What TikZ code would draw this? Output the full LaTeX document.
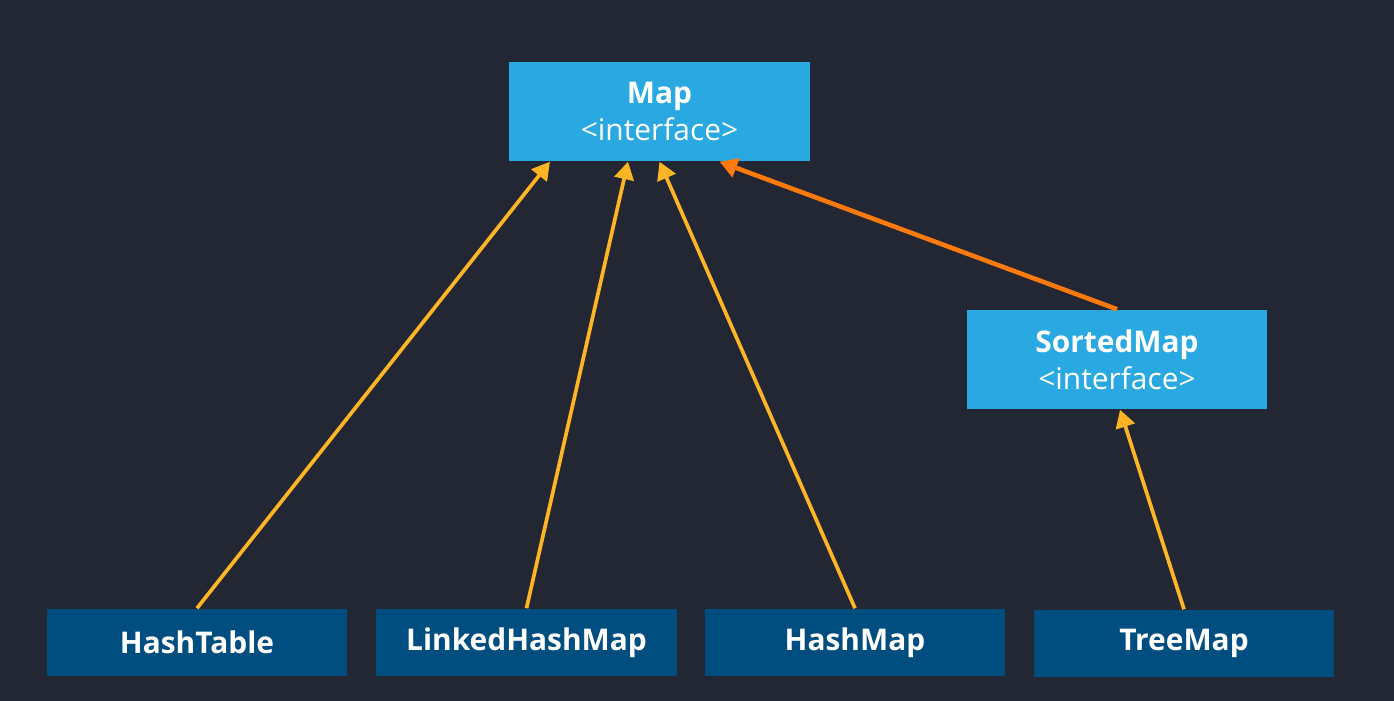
\documentclass[tikz,border=0pt]{standalone}
\usepackage{fontspec}
\setmainfont{Open Sans}
\usetikzlibrary{arrows.meta}
\definecolor{bgdark}{HTML}{222733}
\definecolor{boxlight}{HTML}{29A8E2}
\definecolor{boxdark}{HTML}{004D80}
\definecolor{arryellow}{HTML}{FDB526}
\definecolor{arrorange}{HTML}{FF7A0A}

\begin{document}
\begin{tikzpicture}[x=0.01cm, y=0.01cm,
  iface/.style={fill=boxlight, minimum width=3cm, minimum height=0.99cm, text=white, align=center, inner sep=0pt, font=\fontsize{8.5}{11}\selectfont},
  impl/.style={fill=boxdark, minimum width=3cm, minimum height=0.67cm, text=white, inner sep=0pt, font=\fontsize{8.5}{10}\selectfont\bfseries},
  inherit/.style={arryellow, line width=1.05pt, -{Triangle[length=5pt, width=5.5pt]}},
  inheritiface/.style={arrorange, line width=1.3pt, -{Triangle[length=5pt, width=5.5pt]}}]
  \fill[bgdark] (0,0) rectangle (1394,701);
  \useasboundingbox (0,0) rectangle (1394,701);
  % interfaces
  \node[iface] (map) at (659.5,589.5) {\textbf{Map}\\[-0.5pt]<interface>};
  \node[iface] (sortedmap) at (1117,341.5) {\textbf{SortedMap}\\[-0.5pt]<interface>};
  % implementations
  \node[impl] (hashtable) at (197,58.5) {\raisebox{-1.5pt}{HashTable}};
  \node[impl] (linkedhashmap) at (526.5,58.5) {\raisebox{-1.5pt}{LinkedHashMap}};
  \node[impl] (hashmap) at (855,58.5) {\raisebox{-1.5pt}{HashMap}};
  \node[impl] (treemap) at (1184,57.5) {\raisebox{-1.5pt}{TreeMap}};
  % inheritance
  \draw[inherit] (hashtable.north) -- ([xshift=-1.095cm]map.south);
  \draw[inherit] (linkedhashmap.north) -- ([xshift=-0.315cm]map.south);
  \draw[inherit] (hashmap.north) -- (map.south);
  \draw[inheritiface] (sortedmap.north) -- ([xshift=0.6cm]map.south);
  \draw[inherit] (treemap.north) -- ([xshift=0.03cm]sortedmap.south);
\end{tikzpicture}
\end{document}
